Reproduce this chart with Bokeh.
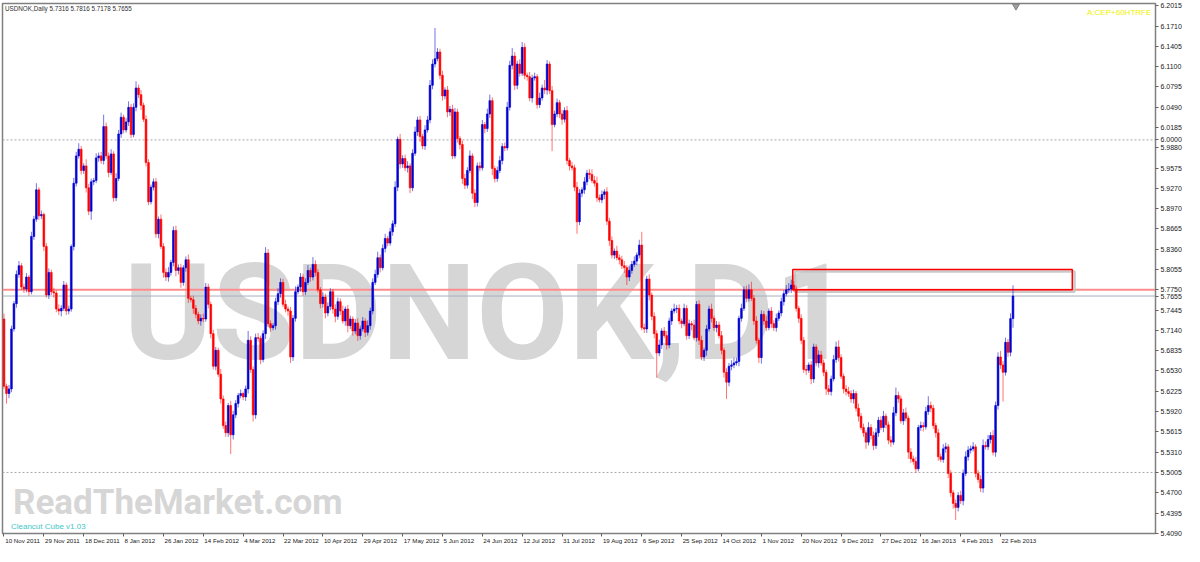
from bokeh.plotting import figure
from bokeh.models import (Range1d, FixedTicker, Span, Label, ColumnDataSource, BoxAnnotation,
                          PrintfTickFormatter, LinearAxis)
from bokeh.embed import file_html
from bokeh.resources import INLINE

# ---------------- data ----------------
open_first = 5.7310
closes = [
    5.630, 5.619, 5.626, 5.716, 5.754, 5.798, 5.811, 5.779, 5.776, 5.794,
    5.772, 5.855, 5.881, 5.925, 5.886, 5.888, 5.840, 5.767, 5.801, 5.772,
    5.770, 5.746, 5.743, 5.747, 5.782, 5.743, 5.746, 5.840, 5.935, 5.976,
    5.986, 5.954, 5.961, 5.928, 5.893, 5.937, 5.939, 5.973, 5.976, 5.969,
    6.020, 5.976, 5.951, 5.979, 5.913, 5.942, 6.009, 6.034, 6.015, 6.027,
    6.049, 6.008, 6.049, 6.078, 6.068, 6.052, 6.031, 5.966, 5.907, 5.929,
    5.937, 5.859, 5.881, 5.840, 5.801, 5.794, 5.801, 5.816, 5.864, 5.804,
    5.808, 5.786, 5.808, 5.820, 5.762, 5.760, 5.747, 5.738, 5.728, 5.732,
    5.731, 5.779, 5.753, 5.709, 5.660, 5.684, 5.648, 5.611, 5.571, 5.560,
    5.601, 5.557, 5.587, 5.604, 5.616, 5.619, 5.614, 5.626, 5.699, 5.655,
    5.587, 5.703, 5.702, 5.670, 5.709, 5.830, 5.724, 5.718, 5.721, 5.757,
    5.769, 5.786, 5.753, 5.746, 5.743, 5.674, 5.732, 5.772, 5.779, 5.794,
    5.772, 5.786, 5.804, 5.794, 5.813, 5.801, 5.775, 5.754, 5.764, 5.740,
    5.750, 5.772, 5.746, 5.735, 5.757, 5.743, 5.728, 5.746, 5.721, 5.731,
    5.713, 5.725, 5.706, 5.716, 5.728, 5.711, 5.721, 5.743, 5.786, 5.798,
    5.823, 5.808, 5.837, 5.852, 5.845, 5.862, 5.874, 5.929, 6.001, 5.964,
    5.972, 5.958, 5.961, 5.928, 5.980, 6.012, 6.030, 6.005, 5.991, 6.015,
    6.030, 6.082, 6.114, 6.122, 6.132, 6.097, 6.066, 6.075, 6.042, 6.046,
    5.976, 6.042, 6.002, 5.993, 5.942, 5.932, 5.954, 5.976, 5.920, 5.906,
    5.961, 5.958, 6.023, 6.017, 6.039, 6.059, 5.957, 5.942, 5.954, 5.969,
    5.990, 5.988, 6.049, 6.112, 6.126, 6.082, 6.114, 6.100, 6.139, 6.097,
    6.095, 6.063, 6.093, 6.095, 6.053, 6.063, 6.078, 6.075, 6.114, 6.074,
    6.023, 6.039, 6.056, 6.039, 6.031, 6.044, 5.969, 5.961, 5.958, 5.929,
    5.877, 5.920, 5.925, 5.937, 5.950, 5.948, 5.939, 5.935, 5.913, 5.910,
    5.918, 5.922, 5.878, 5.849, 5.827, 5.833, 5.823, 5.820, 5.811, 5.808,
    5.794, 5.804, 5.813, 5.818, 5.827, 5.842, 5.718, 5.716, 5.791, 5.767,
    5.735, 5.709, 5.680, 5.692, 5.713, 5.706, 5.692, 5.728, 5.743, 5.746,
    5.747, 5.728, 5.724, 5.747, 5.706, 5.724, 5.722, 5.703, 5.753, 5.699,
    5.674, 5.684, 5.716, 5.746, 5.732, 5.718, 5.722, 5.706, 5.684, 5.651,
    5.636, 5.660, 5.662, 5.665, 5.667, 5.732, 5.747, 5.775, 5.762, 5.775,
    5.762, 5.728, 5.699, 5.673, 5.738, 5.728, 5.718, 5.743, 5.724, 5.718,
    5.732, 5.740, 5.757, 5.769, 5.775, 5.776, 5.782, 5.776, 5.747, 5.732,
    5.699, 5.655, 5.654, 5.662, 5.641, 5.689, 5.665, 5.677, 5.665, 5.651,
    5.626, 5.622, 5.641, 5.670, 5.689, 5.673, 5.645, 5.626, 5.622, 5.619,
    5.611, 5.619, 5.597, 5.585, 5.568, 5.560, 5.546, 5.568, 5.556, 5.541,
    5.560, 5.579, 5.568, 5.585, 5.572, 5.549, 5.546, 5.590, 5.616, 5.611,
    5.578, 5.590, 5.582, 5.531, 5.521, 5.517, 5.506, 5.568, 5.571, 5.569,
    5.592, 5.601, 5.597, 5.571, 5.560, 5.524, 5.520, 5.536, 5.539, 5.499,
    5.470, 5.454, 5.448, 5.466, 5.458, 5.499, 5.524, 5.534, 5.536, 5.539,
    5.499, 5.490, 5.477, 5.541, 5.539, 5.550, 5.556, 5.531, 5.601, 5.674,
    5.662, 5.651, 5.696, 5.681, 5.7316, 5.7655,
]
# upper / lower shadows, in pips (0.0001)
wick_up_pips = [
    80, 40, 60, 50, 40, 60, 70, 40, 50, 60,
    30, 70, 50, 100, 40, 60, 30, 50, 60, 40,
    60, 40, 70, 50, 60, 40, 50, 30, 80, 60,
    90, 50, 40, 100, 60, 50, 40, 70, 50, 60,
    180, 60, 50, 70, 40, 80, 60, 70, 40, 60,
    90, 50, 60, 100, 50, 70, 40, 60, 50, 40,
    50, 60, 40, 70, 50, 60, 80, 40, 60, 70,
    50, 60, 40, 50, 80, 40, 60, 50, 40, 60,
    70, 60, 50, 40, 60, 50, 40, 80, 50, 60,
    40, 70, 60, 50, 40, 60, 30, 50, 140, 60,
    50, 60, 70, 40, 50, 90, 60, 50, 40, 60,
    80, 60, 50, 70, 40, 60, 50, 80, 40, 60,
    50, 60, 80, 40, 110, 60, 50, 40, 70, 50,
    60, 50, 40, 70, 60, 50, 80, 40, 60, 50,
    40, 60, 70, 50, 60, 40, 80, 50, 60, 70,
    90, 50, 60, 70, 40, 60, 50, 90, 40, 80,
    50, 60, 70, 40, 60, 80, 50, 60, 40, 70,
    60, 80, 70, 460, 60, 50, 70, 40, 60, 50,
    70, 60, 50, 40, 60, 70, 50, 80, 40, 60,
    50, 60, 70, 40, 80, 90, 50, 40, 60, 70,
    50, 60, 80, 70, 120, 60, 50, 70, 80, 60,
    40, 70, 50, 60, 40, 80, 50, 120, 60, 40,
    70, 50, 60, 40, 60, 50, 70, 40, 60, 50,
    80, 60, 40, 70, 50, 60, 80, 70, 100, 50,
    60, 40, 70, 50, 60, 40, 80, 50, 60, 70,
    40, 60, 50, 70, 40, 80, 200, 60, 50, 70,
    40, 60, 50, 80, 40, 60, 70, 50, 40, 80,
    50, 60, 40, 70, 50, 60, 40, 80, 50, 60,
    70, 40, 60, 50, 80, 40, 60, 50, 70, 40,
    60, 50, 70, 80, 60, 40, 70, 50, 60, 80,
    120, 50, 70, 40, 60, 50, 80, 40, 60, 50,
    70, 40, 60, 50, 70, 90, 80, 60, 50, 40,
    60, 50, 70, 40, 60, 50, 40, 70, 60, 50,
    40, 60, 50, 70, 80, 100, 50, 40, 60, 70,
    50, 60, 40, 70, 50, 60, 40, 80, 50, 60,
    70, 50, 60, 80, 40, 50, 60, 90, 120, 60,
    50, 60, 80, 40, 60, 50, 70, 40, 60, 50,
    70, 140, 60, 50, 40, 60, 50, 70, 60, 40,
    50, 40, 60, 50, 70, 60, 80, 60, 50, 70,
    40, 50, 60, 90, 60, 70, 50, 80, 60, 70,
    90, 60, 70, 50, 80, 161,
]
wick_dn_pips = [
    40, 150, 70, 50, 40, 60, 50, 40, 60, 50,
    60, 40, 50, 40, 60, 50, 70, 40, 60, 50,
    70, 50, 60, 80, 40, 60, 50, 40, 60, 50,
    40, 60, 50, 70, 60, 130, 50, 40, 60, 50,
    60, 50, 70, 40, 60, 50, 40, 60, 50, 40,
    60, 50, 40, 60, 50, 70, 40, 60, 50, 40,
    50, 60, 70, 40, 80, 60, 70, 50, 60, 90,
    60, 80, 50, 60, 70, 40, 80, 60, 50, 70,
    50, 40, 60, 70, 50, 60, 40, 70, 50, 60,
    60, 290, 70, 50, 60, 40, 50, 60, 70, 50,
    100, 60, 50, 70, 40, 80, 50, 60, 40, 60,
    50, 60, 40, 50, 70, 90, 60, 50, 40, 70,
    60, 50, 40, 70, 50, 60, 40, 70, 60, 80,
    50, 60, 70, 90, 50, 60, 40, 70, 100, 50,
    70, 50, 80, 60, 40, 70, 50, 60, 50, 40,
    50, 70, 40, 60, 50, 40, 60, 50, 60, 70,
    60, 50, 70, 80, 50, 40, 60, 80, 50, 60,
    40, 50, 60, 50, 40, 60, 70, 50, 80, 60,
    50, 40, 60, 70, 80, 60, 50, 40, 90, 70,
    60, 50, 40, 70, 50, 60, 100, 60, 50, 40,
    60, 50, 40, 50, 60, 70, 60, 50, 40, 60,
    60, 50, 70, 40, 60, 50, 40, 60, 70, 50,
    400, 40, 50, 60, 80, 50, 60, 70, 40, 60,
    180, 50, 60, 60, 50, 70, 40, 50, 60, 40,
    50, 70, 60, 80, 50, 60, 40, 70, 50, 80,
    120, 60, 50, 40, 60, 50, 40, 60, 60, 80,
    60, 70, 370, 50, 60, 40, 70, 50, 60, 40,
    60, 50, 70, 40, 60, 50, 80, 40, 60, 70,
    50, 60, 80, 40, 60, 50, 70, 40, 60, 80,
    250, 60, 60, 50, 40, 70, 50, 40, 60, 50,
    40, 60, 50, 80, 90, 60, 50, 40, 70, 50,
    60, 40, 50, 60, 40, 50, 60, 40, 50, 70,
    60, 50, 70, 40, 80, 60, 50, 70, 40, 60,
    90, 50, 60, 40, 50, 60, 40, 70, 60, 50,
    60, 70, 50, 80, 40, 60, 100, 50, 60, 70,
    50, 60, 40, 70, 50, 60, 70, 40, 50, 60,
    40, 60, 50, 100, 60, 50, 60, 40, 50, 70,
    40, 50, 60, 50, 70, 60, 40, 50, 60, 70,
    60, 80, 190, 60, 50, 70, 40, 60, 50, 40,
    60, 50, 60, 70, 40, 50, 60, 50, 70, 60,
    60, 440, 50, 70, 60, 138,
]

y_tick_labels = ["6.2015", "6.1710", "6.1405", "6.1100", "6.0795", "6.0490", "6.0185",
                 "6.0000", "5.9880", "5.9575", "5.9270", "5.8970", "5.8665", "5.8360",
                 "5.8055", "5.7750", "5.7655", "5.7445", "5.7140", "5.6835", "5.6530",
                 "5.6225", "5.5920", "5.5615", "5.5310", "5.5005", "5.4700", "5.4395",
                 "5.4090"]
x_tick_bars = [0, 16, 32, 48, 64, 80, 96, 112, 128, 144, 160, 176, 192, 208, 224,
               240, 256, 272, 288, 304, 320, 336, 352, 368, 384, 400]
x_tick_labels = ["10 Nov 2011", "29 Nov 2011", "18 Dec 2011", "8 Jan 2012", "26 Jan 2012",
                 "14 Feb 2012", "4 Mar 2012", "22 Mar 2012", "10 Apr 2012", "29 Apr 2012",
                 "17 May 2012", "5 Jun 2012", "24 Jun 2012", "12 Jul 2012", "31 Jul 2012",
                 "19 Aug 2012", "6 Sep 2012", "25 Sep 2012", "14 Oct 2012", "1 Nov 2012",
                 "20 Nov 2012", "9 Dec 2012", "27 Dec 2012", "16 Jan 2013", "4 Feb 2013",
                 "22 Feb 2013"]

header_text = "USDNOK,Daily  5.7316 5.7816 5.7178 5.7655"
level_lines = [6.0000, 5.5005]
bid_price = 5.7655
alert_price = 5.7750
zone_top, zone_bottom = 5.8055, 5.7750
zone_first_bar, zone_last_bar = 316.6, 428.8

# ---------------- build ----------------
opens = [open_first] + closes[:-1]
xs = list(range(len(closes)))
highs = [max(o, c) + u / 10000 for o, c, u in zip(opens, closes, wick_up_pips)]
lows = [min(o, c) - d / 10000 for o, c, d in zip(opens, closes, wick_dn_pips)]
BLUE, RED = "#0000D0", "#FF0000"
colors = [BLUE if c >= o else RED for o, c in zip(opens, closes)]
src = ColumnDataSource(dict(x=xs, top=[max(o, c) for o, c in zip(opens, closes)],
                            bottom=[min(o, c) for o, c in zip(opens, closes)],
                            high=highs, low=lows, color=colors))

W, H = 1184, 546
X0, X1 = -0.6, 462.2
Y0, Y1 = 5.4088, 6.2049
p = figure(width=W, height=H, x_range=Range1d(X0, X1), y_range=Range1d(Y0, Y1),
           y_axis_location="right", output_backend="svg", toolbar_location=None,
           min_border_left=2, min_border_top=3, min_border_right=0, min_border_bottom=13)
p.background_fill_color = "white"
p.border_fill_color = "white"
p.outline_line_color = "#808080"
p.outline_line_width = 1.5
p.grid.visible = False

FONT = "Liberation Sans"
p.yaxis.ticker = FixedTicker(ticks=[float(s) for s in y_tick_labels])
p.yaxis.formatter = PrintfTickFormatter(format="%.4f")
p.yaxis.major_label_text_font = FONT
p.yaxis.major_label_text_font_size = "7px"
p.yaxis.major_label_text_color = "#202020"
p.yaxis.major_tick_out = 3
p.yaxis.major_tick_in = 0
p.yaxis.minor_tick_out = 0
p.yaxis.minor_tick_in = 0
p.yaxis.major_label_standoff = 2
p.yaxis.axis_line_color = "#808080"
p.yaxis.major_tick_line_color = "#606060"

# time axis: tick marks at the bars ...
p.xaxis.ticker = FixedTicker(ticks=x_tick_bars)
p.xaxis.major_label_overrides = {b: "" for b in x_tick_bars}
p.xaxis.major_label_text_font_size = "1px"
p.xaxis.major_label_standoff = 0
p.xaxis.major_tick_out = 3
p.xaxis.major_tick_in = 0
p.xaxis.minor_tick_out = 0
p.xaxis.minor_tick_in = 0
p.xaxis.axis_line_color = "#808080"
p.xaxis.major_tick_line_color = "#606060"

# ... and the date texts written to the right of each tick (MT4 style)
CHAR_W = {" ": 0.278, "N": 0.722, "o": 0.556, "v": 0.5, "D": 0.722, "e": 0.556, "c": 0.5,
          "J": 0.5, "a": 0.556, "n": 0.556, "F": 0.611, "b": 0.556, "M": 0.833, "r": 0.333,
          "A": 0.667, "p": 0.556, "y": 0.5, "u": 0.556, "l": 0.222, "g": 0.556, "S": 0.667,
          "O": 0.778, "t": 0.278}
XLAB_PX = 6.2
FRAME_W = 1154.0
bars_per_px = (X1 - X0) / FRAME_W
centers = [round(b + 1.0 / 2.5 + sum(CHAR_W.get(ch, 0.556) for ch in s) * XLAB_PX / 2 * bars_per_px, 3)
           for b, s in zip(x_tick_bars, x_tick_labels)]
date_axis = LinearAxis(ticker=FixedTicker(ticks=centers),
                       major_label_overrides={c: s for c, s in zip(centers, x_tick_labels)},
                       major_label_text_font=FONT, major_label_text_font_size="6.2px",
                       major_label_text_color="#202020", major_label_standoff=0,
                       major_tick_out=0, major_tick_in=0, minor_tick_out=0, minor_tick_in=0,
                       axis_line_color=None)
p.add_layout(date_axis, "below")

# watermarks
WM_FONT = "Roboto"
p.add_layout(Label(x=194.0, y=5.7393, text="USDNOK,D1", text_font=WM_FONT,
                   text_font_style="bold", text_font_size="134px", text_color="#D6D6D6",
                   text_align="center", text_baseline="alphabetic", level="underlay"))
p.add_layout(Label(x=3.6, y=5.4555, text="ReadTheMarket.com", text_font=WM_FONT,
                   text_font_style="bold", text_font_size="35px", text_color="#D6D6D6",
                   text_baseline="alphabetic", level="underlay"))

# level lines
for lv in level_lines:
    p.add_layout(Span(location=lv, dimension="width", line_color="#A8A8A8",
                      line_dash="2 2", line_width=1, level="underlay"))
p.add_layout(Span(location=alert_price, dimension="width", line_color="#FF8C8C",
                  line_width=2, level="underlay"))
p.add_layout(Span(location=bid_price, dimension="width", line_color="#A6B0BC",
                  line_width=1, level="underlay"))

# zone rectangle with shadow
p.add_layout(BoxAnnotation(left=zone_first_bar + 0.9, right=zone_last_bar + 0.9,
                           top=zone_top - 0.003, bottom=zone_bottom - 0.003,
                           fill_alpha=0, line_color="#C4C4C4", line_alpha=0.9,
                           line_width=2.5, level="underlay"))
p.add_layout(BoxAnnotation(left=zone_first_bar, right=zone_last_bar, top=zone_top,
                           bottom=zone_bottom, fill_alpha=0, line_color="#FF0000",
                           line_alpha=1.0, line_width=1.5, level="underlay"))

# candles
p.segment(x0="x", y0="high", x1="x", y1="low", source=src, line_color="color",
          line_alpha=0.55, line_width=1)
p.vbar(x="x", width=0.7, top="top", bottom="bottom", source=src, fill_color="color",
       line_color="color", line_width=0.6)

# chart shift marker
p.scatter(x=[406.2], y=[6.2010], marker="inverted_triangle", size=7,
          fill_color="#A0A0A0", line_color="#808080")

# texts
p.add_layout(Label(x=0.4, y=6.2030, text=header_text, text_font=FONT,
                   text_font_size="6.3px", text_color="#303030", text_baseline="top"))
p.add_layout(Label(x=460.5, y=6.1975, text="A:CEP+60HTRFE", text_font=FONT,
                   text_font_size="8px", text_color="#F0F000", text_align="right",
                   text_baseline="top"))
p.add_layout(Label(x=2.8, y=5.4195, text="Cleancut Cube v1.03", text_font=FONT,
                   text_font_size="8px", text_color="#3EC6C6", text_baseline="alphabetic"))

open("out.html", "w").write(file_html(p, INLINE))
